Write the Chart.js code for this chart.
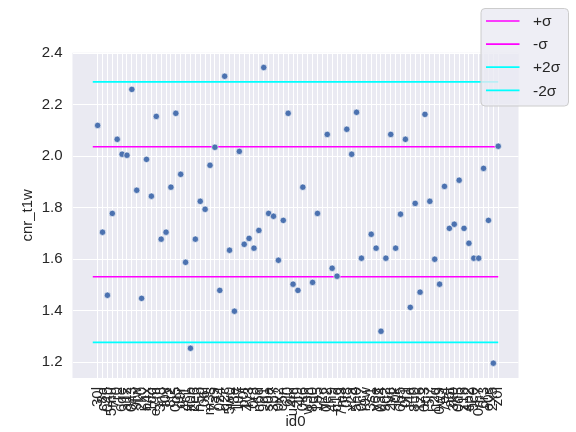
<!DOCTYPE html>
<html>
<head>
<meta charset="utf-8">
<script src="https://cdn.jsdelivr.net/npm/chart.js@4/dist/chart.umd.min.js"></script>
<style>
    body { margin: 0; background: #ffffff; }
    #wrap { width: 576px; height: 432px; }
</style>
</head>
<body>
<div id="wrap"><canvas id="chart" width="576" height="432"></canvas></div>
<script>
// Datos
const ids = [
    "30l","c8a","04b","5mu","7r0","6qe","a1z","0h3","9fw","2k0",
    "b4x","1dq","e7m","3n8","f0y","8t2","0g5","d9r","4c1","k0b",
    "2e6","h5p","06l","m3s","7a9","0z4","g2c","5w0","j8e","1u7",
    "p0f","4y3","0r8","n6d","9q1","s0a","3b7","0x2","c5n","6j0",
    "u4m","2f9","0k6","w3h","8d0","1p5","v7c","0e2","4n9","q1g",
    "7m3","0t8","x2a","5h0","0c7","r9w","3s1","y6e","0a4","9g2",
    "2v8","l0k","6b5","0f1","t4d","8u0","1z6","0n3","5j7","h2q",
    "0w9","7e4","a6t","3k0","0d5","z1b","4p2","9c0","0m7","6r3",
    "e0s","2x5","z0l"
];

const cnrValues = [
    2.120, 1.705, 1.460, 1.778, 2.066, 2.008, 2.004, 2.260, 1.868, 1.448,
    1.988, 1.845, 2.155, 1.678, 1.705, 1.880, 2.167, 1.930, 1.588, 1.254,
    1.678, 1.825, 1.794, 1.965, 2.035, 1.479, 2.311, 1.635, 1.398, 2.019,
    1.658, 1.681, 1.643, 1.712, 2.345, 1.778, 1.767, 1.596, 1.751, 2.167,
    1.503, 1.479, 1.880, null,  1.510, 1.778, null,  2.085, 1.565, 1.534,
    null,  2.105, 2.008, 2.171, 1.604, null,  1.697, 1.643, 1.320, 1.604,
    2.085, 1.643, 1.775, 2.066, 1.413, 1.817, 1.472, 2.163, 1.825, 1.600,
    1.503, 1.883, 1.720, 1.736, 1.907, 1.720, 1.662, 1.604, 1.604, 1.953,
    1.751, 1.196, 2.039
];

const sigmaNames = ["+σ", "-σ", "+2σ", "-2σ"];
const sigmaLevels = [2.037, 1.532, 2.289, 1.277];
const sigmaColors = ["#ff00ff", "#ff00ff", "#00ffff", "#00ffff"];
const lineStartX = -1;
const lineEndX = 82;

const yTicks = [1.2, 1.4, 1.6, 1.8, 2.0, 2.2, 2.4];

const FONT = "'Liberation Sans', Arial, sans-serif";
const TEXT_COLOR = "#262626";

// Construcción de datasets
const points = [];
cnrValues.forEach((v, i) => {
    if (v !== null) points.push({ x: i, y: v });
});

const datasets = [];
sigmaLevels.forEach((lvl, k) => {
    datasets.push({
        type: 'line',
        label: sigmaNames[k],
        data: [{ x: lineStartX, y: lvl }, { x: lineEndX, y: lvl }],
        borderColor: sigmaColors[k],
        borderWidth: 1.7,
        pointRadius: 0,
        fill: false,
        order: 2
    });
});
datasets.push({
    type: 'scatter',
    label: 'cnr_t1w',
    data: points,
    backgroundColor: '#4c72b0',
    borderColor: '#ffffff',
    borderWidth: 0.6,
    pointRadius: 3.2,
    order: 1
});

// Fondo gris estilo seaborn
const plotBg = {
    id: 'plotBg',
    beforeDraw(chart) {
        const { ctx, chartArea: a } = chart;
        ctx.save();
        ctx.fillStyle = '#eaeaf2';
        ctx.fillRect(a.left, a.top, a.right - a.left, a.bottom - a.top);
        ctx.restore();
    }
};

// Leyenda dibujada a mano (arriba a la derecha, fuera del área)
const sigmaLegend = {
    id: 'sigmaLegend',
    afterDraw(chart) {
        const ctx = chart.ctx;
        const bx = 481, by = 8.5, bw = 87.5, bh = 97.5, r = 4;
        ctx.save();
        ctx.beginPath();
        ctx.roundRect(bx, by, bw, bh, r);
        ctx.fillStyle = 'rgba(234,234,242,0.8)';
        ctx.fill();
        ctx.strokeStyle = '#cccccc';
        ctx.lineWidth = 1;
        ctx.stroke();

        ctx.font = '15.5px ' + FONT;
        ctx.textBaseline = 'middle';
        ctx.fillStyle = TEXT_COLOR;
        const rows = chart.data.datasets.filter(d => d.type === 'line');
        rows.forEach((d, i) => {
            const y = 21 + i * 23.1;
            ctx.beginPath();
            ctx.moveTo(486, y);
            ctx.lineTo(519.5, y);
            ctx.strokeStyle = d.borderColor;
            ctx.lineWidth = 1.7;
            ctx.stroke();
            ctx.fillText(d.label, 533, y + 1);
        });
        ctx.restore();
    }
};

new Chart(document.getElementById('chart'), {
    type: 'scatter',
    data: { datasets: datasets },
    plugins: [plotBg, sigmaLegend],
    options: {
        responsive: false,
        devicePixelRatio: 1,
        animation: false,
        layout: { padding: { top: 52.7, right: 57.5, left: 0, bottom: 0 } },
        plugins: {
            legend: { display: false },
            tooltip: { enabled: false }
        },
        scales: {
            x: {
                type: 'linear',
                min: -5.15,
                max: 86.15,
                afterBuildTicks: (axis) => {
                    axis.ticks = ids.map((_, i) => ({ value: i }));
                },
                afterFit: (axis) => { axis.height = 54; },
                grid: { color: '#ffffff', lineWidth: 1, drawTicks: false },
                border: { display: false },
                ticks: {
                    autoSkip: false,
                    minRotation: 90,
                    maxRotation: 90,
                    padding: 9,
                    color: TEXT_COLOR,
                    font: { family: FONT, size: 15 },
                    callback: (v) => ids[v]
                },
                title: {
                    display: true,
                    text: 'id0',
                    color: TEXT_COLOR,
                    font: { family: FONT, size: 15 },
                    padding: { top: 0, bottom: 1.5 }
                }
            },
            y: {
                min: 1.1385,
                max: 2.4025,
                afterBuildTicks: (axis) => {
                    axis.ticks = yTicks.map(v => ({ value: v }));
                },
                afterFit: (axis) => { axis.width = 72.5; },
                grid: { color: '#ffffff', lineWidth: 1, drawTicks: false },
                border: { display: false },
                ticks: {
                    padding: 10,
                    color: TEXT_COLOR,
                    font: { family: FONT, size: 15 },
                    callback: (v) => v.toFixed(1)
                },
                title: {
                    display: true,
                    text: 'cnr_t1w',
                    color: TEXT_COLOR,
                    font: { family: FONT, size: 15 },
                    padding: { top: 19, bottom: 0 }
                }
            }
        }
    }
});
</script>
</body>
</html>
